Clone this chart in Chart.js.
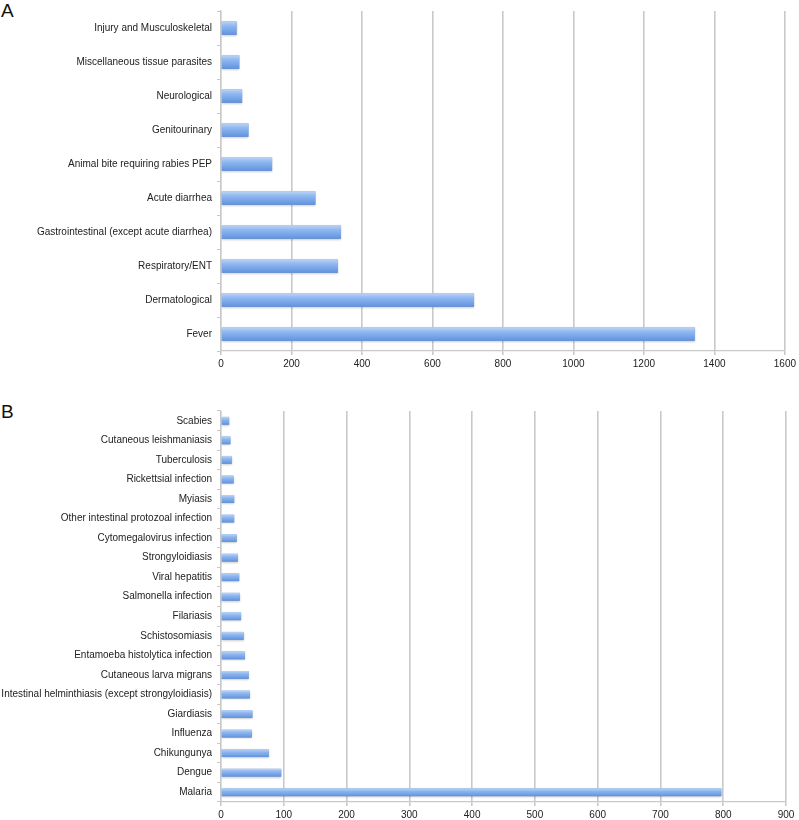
<!DOCTYPE html>
<html>
<head>
<meta charset="utf-8">
<script src="https://cdn.jsdelivr.net/npm/chart.js@4.4.0/dist/chart.umd.min.js"></script>
<style>
  body{margin:0;background:#fff;width:799px;height:820px;position:relative;overflow:hidden;font-family:"Liberation Sans",Arial,sans-serif;}
  .panel{position:absolute;left:0;width:799px;}
  .tag{position:absolute;left:1px;font-size:19px;line-height:19px;color:#111;}
</style>
</head>
<body>
<div class="tag" style="top:1px">A</div>
<div class="panel" style="top:0;height:400px"><canvas id="chartA" width="799" height="400"></canvas></div>
<div class="tag" style="top:402px">B</div>
<div class="panel" style="top:400px;height:420px"><canvas id="chartB" width="799" height="420"></canvas></div>
<script>
// panel A - syndromes (top to bottom)
var catsA = ["Injury and Musculoskeletal","Miscellaneous tissue parasites","Neurological","Genitourinary",
  "Animal bite requiring rabies PEP","Acute diarrhea","Gastrointestinal (except acute diarrhea)",
  "Respiratory/ENT","Dermatological","Fever"];
var valsA = [44, 52, 60, 78, 145, 268, 340, 332, 718, 1344];
var ticksA = {min:0, max:1600, step:200};

// panel B - diagnoses (top to bottom)
var catsB = ["Scabies","Cutaneous leishmaniasis","Tuberculosis","Rickettsial infection","Myiasis",
  "Other intestinal protozoal infection","Cytomegalovirus infection","Strongyloidiasis","Viral hepatitis",
  "Salmonella infection","Filariasis","Schistosomiasis","Entamoeba histolytica infection",
  "Cutaneous larva migrans","Intestinal helminthiasis (except strongyloidiasis)","Giardiasis","Influenza",
  "Chikungunya","Dengue","Malaria"];
var valsB = [13, 15, 17, 20, 21, 21, 25, 27, 29, 30, 32, 36, 38, 44, 46, 50, 49, 76, 96, 797];
var ticksB = {min:0, max:900, step:100};

var FONT = "'Liberation Sans', Arial, sans-serif";
var GRID = "#c9c9c9";

// excel-ish shaded bars, painted over the library's bar rectangles
var barShade = {
  id: "barShade",
  afterDatasetsDraw: function(chart){
    var ctx = chart.ctx;
    var meta = chart.getDatasetMeta(0);
    meta.data.forEach(function(bar){
      var p = bar.getProps(["x","y","base","height"], true);
      var top = p.y - p.height/2, h = p.height;
      var g = ctx.createLinearGradient(0, top, 0, top + h);
      g.addColorStop(0, "#bcd5f6");
      g.addColorStop(0.35, "#8fb7ef");
      g.addColorStop(0.7, "#75a4e8");
      g.addColorStop(1, "#6391da");
      ctx.save();
      ctx.shadowColor = "rgba(0,0,0,0.2)";
      ctx.shadowBlur = 2;
      ctx.shadowOffsetY = 1;
      ctx.fillStyle = g;
      ctx.fillRect(p.base, top, p.x - p.base, h);
      ctx.restore();
    });
  }
};

function makeChart(id, cats, vals, tk, padTop, xHeight){
  return new Chart(document.getElementById(id), {
    type: "bar",
    data: {
      labels: cats,
      datasets: [{data: vals, backgroundColor: "#80abe9", borderWidth: 0,
        barPercentage: 0.4, categoryPercentage: 1}]
    },
    options: {
      indexAxis: "y",
      responsive: false,
      animation: false,
      layout: {padding: {top: padTop, right: 13, bottom: 0, left: 0}},
      plugins: {legend: {display: false}, tooltip: {enabled: false}},
      scales: {
        x: {
          min: tk.min, max: tk.max,
          afterFit: function(s){ s.height = xHeight; },
          ticks: {stepSize: tk.step, color: "#222", padding: 3, font: {family: FONT, size: 10},
            callback: function(v){ return String(v); }},
          grid: {color: GRID, lineWidth: 1.6, drawTicks: true, tickLength: 4},
          border: {display: true, color: GRID, width: 1.2}
        },
        y: {
          afterFit: function(s){ s.width = 221; },
          ticks: {color: "#222", padding: 5, autoSkip: false, font: {family: FONT, size: 10}},
          grid: {drawOnChartArea: false, drawTicks: true, tickLength: 4, color: GRID, offset: true},
          border: {display: true, color: GRID, width: 1.2}
        }
      }
    },
    plugins: [barShade]
  });
}

makeChart("chartA", catsA, valsA, ticksA, 3, 49);
makeChart("chartB", catsB, valsB, ticksB, 4, 18);
</script>
</body>
</html>
